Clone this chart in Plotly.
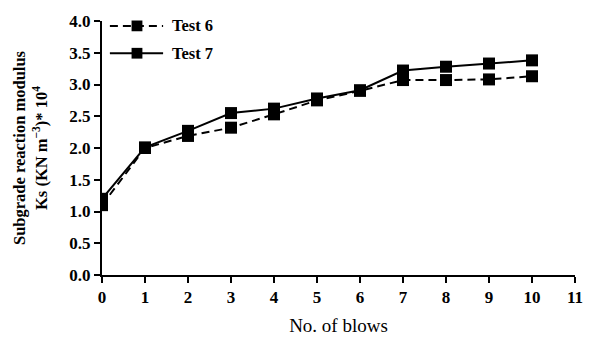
import plotly.graph_objects as go

blows = [0, 1, 2, 3, 4, 5, 6, 7, 8, 9, 10]
test6 = [1.10, 2.00, 2.19, 2.32, 2.53, 2.75, 2.90, 3.07, 3.07, 3.08, 3.13]
test7 = [1.20, 2.01, 2.27, 2.55, 2.62, 2.78, 2.91, 3.22, 3.28, 3.33, 3.38]
series_names = ["Test 6", "Test 7"]
x_ticks = list(range(0, 12))
y_ticks = [0.0, 0.5, 1.0, 1.5, 2.0, 2.5, 3.0, 3.5, 4.0]

font_family = "Liberation Serif"
DASH = "8px,5px"

fig = go.Figure()
fig.add_trace(go.Scatter(
    x=blows, y=test6, name=series_names[0], mode="lines+markers",
    line=dict(color="black", width=2, dash=DASH),
    marker=dict(symbol="square", size=12, color="black"),
))
fig.add_trace(go.Scatter(
    x=blows, y=test7, name=series_names[1], mode="lines+markers",
    line=dict(color="black", width=2),
    marker=dict(symbol="square", size=12, color="black"),
))

# Manual legend (longer line samples as in the reference)
L = 102; PW = 480; B = 275; PH = 260
def px_x(p): return (p - L) / PW
def px_y(p): return (B - p) / PH
legend_rows = [(20, DASH, series_names[0]), (48, None, series_names[1])]
for row_y, dash, label in legend_rows:
    line = dict(color="black", width=2)
    if dash:
        line["dash"] = dash
    fig.add_shape(type="line", xref="paper", yref="paper",
                  x0=px_x(110), x1=px_x(164), y0=px_y(row_y), y1=px_y(row_y), line=line)
    fig.add_shape(type="rect", xref="paper", yref="paper",
                  x0=px_x(132), x1=px_x(143), y0=px_y(row_y - 5.5), y1=px_y(row_y + 5.5),
                  line=dict(width=0), fillcolor="black")
    fig.add_annotation(xref="paper", yref="paper", x=px_x(171), y=px_y(row_y),
                       xanchor="left", yanchor="middle", showarrow=False,
                       text=label, font=dict(size=16.5, family=font_family, weight="bold"))

fig.update_layout(
    width=595, height=351,
    margin=dict(l=102, r=13, t=15, b=76),
    paper_bgcolor="white", plot_bgcolor="white",
    font=dict(family=font_family, color="black", size=16),
    showlegend=False,
    xaxis=dict(
        range=[0, 11], tickmode="array", tickvals=x_ticks,
        ticktext=[str(t) for t in x_ticks],
        showgrid=False, zeroline=False, showline=True, linecolor="black", linewidth=2,
        ticks="outside", ticklen=6, tickwidth=2, tickcolor="black",
        tickfont=dict(size=17, family=font_family, weight="bold"),
        title=dict(text="No. of blows", font=dict(size=19, family=font_family), standoff=12),
    ),
    yaxis=dict(
        range=[0, 4.0], tickmode="array", tickvals=y_ticks,
        ticktext=[f"{t:.1f}" for t in y_ticks],
        showgrid=False, zeroline=False, showline=True, linecolor="black", linewidth=2,
        ticks="outside", ticklen=6, tickwidth=2, tickcolor="black",
        tickfont=dict(size=17, family=font_family, weight="bold"),
        title=dict(text="Subgrade reaction modulus<br>Ks (KN m<sup>−3</sup>)* 10<sup>4</sup>",
                   font=dict(size=16.5, family=font_family, weight="bold"), standoff=18),
    ),
)

fig.write_html("out.html")
